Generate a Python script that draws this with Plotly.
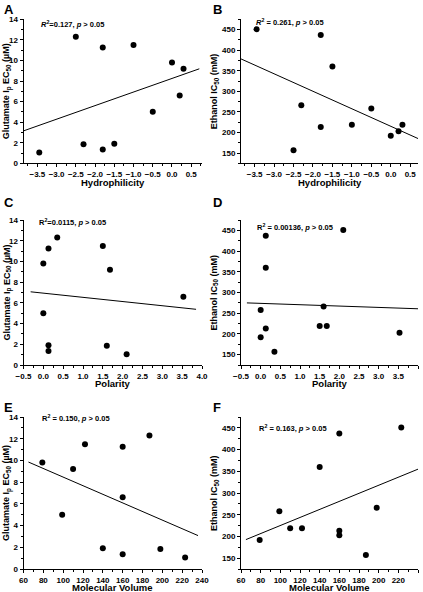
import numpy as np
import plotly.graph_objects as go

# ---- data (one entry per compound) ----
hydrophilicity = [0.0, -0.5, 0.3, -1.0, -1.5, -1.8, 0.2, -1.8, -2.5, -2.3, -3.45]
polarity = [0.0, 0.0, 1.68, 1.5, 0.13, 0.13, 3.53, 0.13, 0.35, 1.6, 2.1]
mol_volume = [79, 99, 110, 122, 140, 160, 160, 160, 187, 198, 223]
glutamate_ec50 = [9.8, 5.0, 9.2, 11.5, 1.9, 11.25, 6.6, 1.35, 12.3, 1.85, 1.05]
ethanol_ic50 = [192, 258, 219, 219, 360, 437, 203, 213, 157, 266, 451]

stats_text = [
    "<i>R</i><sup>2</sup>=0.127, <i>p</i> > 0.05",
    "<i>R</i><sup>2</sup> = 0.261, <i>p</i> > 0.05",
    "R<sup>2</sup>=0.0115, <i>p</i> > 0.05",
    "R<sup>2</sup> = 0.00136, <i>p</i> > 0.05",
    "R<sup>2</sup> = 0.150, <i>p</i> > 0.05",
    "R<sup>2</sup> = 0.163, <i>p</i> > 0.05",
]
panel_letters = ["A", "B", "C", "D", "E", "F"]
x_titles = ["Hydrophilicity", "Hydrophilicity", "Polarity", "Polarity",
            "Molecular Volume", "Molecular Volume"]
glu_title = "Glutamate I<sub>p</sub> EC<sub>50</sub> (µM)"
eth_title = "Ethanol IC<sub>50</sub> (mM)"

W, H = 423, 592
def fx(p): return p / W
def fy(p): return 1 - p / H

FONT = "Liberation Sans, Arial, sans-serif"

panels = [
    # x data, y data, x range, fit extent, x dtick, x minor, y kind
    (hydrophilicity, glutamate_ec50, [-3.86, 0.78], [-3.86, 0.71], 0.5, 0.25, "glu"),
    (hydrophilicity, ethanol_ic50, [-3.85, 0.7], [-3.85, 0.7], 0.5, 0.25, "eth"),
    (polarity, glutamate_ec50, [-0.5, 4.0], [-0.32, 3.85], 0.5, 0.25, "glu"),
    (polarity, ethanol_ic50, [-0.5, 4.0], [-0.35, 4.0], 0.5, 0.25, "eth"),
    (mol_volume, glutamate_ec50, [60, 240], [65, 236], 20, 10, "glu"),
    (mol_volume, ethanol_ic50, [60, 240], [65, 240], 20, 10, "eth"),
]

cols = [(23.5, 202), (241, 418)]
rows = [(19.3, 163.3), (220, 365), (417, 569)]
letter_x = [2, 211]
letter_y = [9, 202, 407]
ytitle_x = [7, 214]
xtitle_y = [182, 383, 587]

fig = go.Figure()
layout = {}
annotations = []

for i, (xd, yd, xr, fe, xdt, xmin, kind) in enumerate(panels):
    r, c = divmod(i, 2)
    n = i + 1
    xa = "x" if n == 1 else f"x{n}"
    ya = "y" if n == 1 else f"y{n}"
    x0, x1 = cols[c]
    y0, y1 = rows[r]

    fig.add_trace(go.Scatter(x=xd, y=yd, mode="markers", xaxis=xa, yaxis=ya,
                             marker=dict(color="black", size=6), showlegend=False,
                             cliponaxis=False))
    slope, icpt = np.polyfit(xd, yd, 1)
    fx_line = np.array(fe)
    fig.add_trace(go.Scatter(x=fx_line, y=slope * fx_line + icpt, mode="lines",
                             xaxis=xa, yaxis=ya, line=dict(color="black", width=1),
                             showlegend=False, cliponaxis=False))

    tickfont = dict(family=FONT, size=8, color="black", weight="bold")
    xkey = "xaxis" if n == 1 else f"xaxis{n}"
    ykey = "yaxis" if n == 1 else f"yaxis{n}"
    is_decimal = xdt < 1
    layout[xkey] = dict(
        domain=[fx(x0), fx(x1)], anchor=ya, range=xr, showgrid=False, zeroline=False,
        showline=True, linecolor="black", linewidth=1, ticks="outside", ticklen=3,
        tickwidth=1, tickcolor="black", dtick=xdt, tick0=0, automargin=False,
        tickformat=".1f" if is_decimal else "d", tickfont=tickfont,
        minor=dict(dtick=xmin, ticks="outside", ticklen=2, tickcolor="black"),
    )
    if kind == "glu":
        yr, ydt, ymin = [0, 14], 2, 1
    else:
        yr, ydt, ymin = [125, 475], 50, 25
    layout[ykey] = dict(
        domain=[fy(y1), fy(y0)], anchor=xa, range=yr, showgrid=False, zeroline=False,
        showline=True, linecolor="black", linewidth=1, ticks="outside", ticklen=3,
        tickwidth=1, tickcolor="black", dtick=ydt, tick0=0, tickfont=tickfont,
        automargin=False,
        minor=dict(dtick=ymin, ticks="outside", ticklen=2, tickcolor="black"),
    )

    # panel letter
    annotations.append(dict(text=panel_letters[i], xref="paper", yref="paper",
                            x=fx(letter_x[c]), y=fy(letter_y[r]),
                            xanchor="left", yanchor="middle", showarrow=False,
                            font=dict(family=FONT, size=13, color="black", weight="bold")))
    # stats annotation
    sx = [39, 254, 37, 255, 40, 257][i]
    sy = [24, 22, 222, 227, 418, 428][i]
    annotations.append(dict(text=stats_text[i], xref="paper", yref="paper",
                            x=fx(sx), y=fy(sy), xanchor="left", yanchor="middle",
                            showarrow=False,
                            font=dict(family=FONT, size=7.5, color="black", weight="bold")))
    # x title
    annotations.append(dict(text=x_titles[i], xref="paper", yref="paper",
                            x=fx((x0 + x1) / 2), y=fy(xtitle_y[r]), xanchor="center",
                            yanchor="middle", showarrow=False,
                            font=dict(family=FONT, size=9.5, color="black", weight="bold")))
    # y title
    annotations.append(dict(text=glu_title if kind == "glu" else eth_title,
                            xref="paper", yref="paper", textangle=-90,
                            x=fx(ytitle_x[c]), y=fy((y0 + y1) / 2), xanchor="center",
                            yanchor="middle", showarrow=False,
                            font=dict(family=FONT, size=9, color="black", weight="bold")))

fig.update_layout(**layout)
fig.update_layout(
    width=W, height=H, margin=dict(l=0, r=0, t=0, b=0),
    paper_bgcolor="white", plot_bgcolor="white", annotations=annotations,
    showlegend=False, hovermode=False,
)
fig.write_html(
    "out.html",
    config={"displayModeBar": False, "staticPlot": True},
    post_script="document.body.style.margin='0';document.body.style.overflow='hidden';",
)
